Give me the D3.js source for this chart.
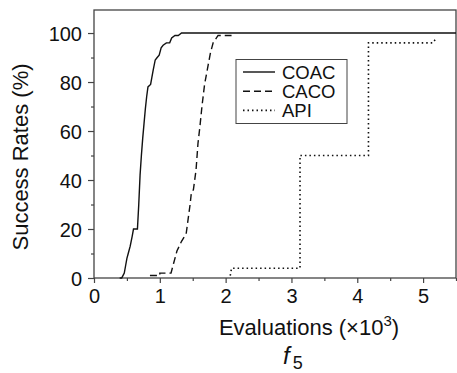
<!DOCTYPE html>
<html>
<head>
  <script src="https://cdn.jsdelivr.net/npm/d3@7"></script>
  <style>
    body { margin: 0; background: #fff; }
  </style>
</head>
<body>
  <main id="container"></main>
  <script>
    // series: [evaluations (x10^3), success rate %]
    const coacData = [
      [0.39, 0], [0.42, 0], [0.44, 1], [0.46, 2], [0.48, 5], [0.50, 8], [0.52, 10],
      [0.55, 13], [0.58, 17], [0.60, 20], [0.66, 20], [0.68, 30], [0.70, 42],
      [0.72, 50], [0.74, 57], [0.76, 63], [0.78, 69], [0.80, 74], [0.82, 78],
      [0.86, 79], [0.88, 82], [0.90, 85], [0.93, 89], [0.96, 90], [0.99, 91],
      [1.02, 94], [1.05, 95], [1.10, 96], [1.15, 96], [1.18, 98], [1.23, 99],
      [1.28, 99], [1.33, 100], [5.5, 100]
    ]
    const cacoData = [
      [0.85, 1], [1.00, 1], [1.00, 2], [1.17, 2], [1.21, 6], [1.26, 11], [1.33, 15],
      [1.40, 18], [1.43, 24], [1.46, 30], [1.48, 35], [1.51, 36], [1.55, 44],
      [1.58, 55], [1.61, 62], [1.64, 70], [1.68, 79], [1.735, 87], [1.77, 92],
      [1.81, 96], [1.885, 99], [2.09, 99]
    ]
    const apiData = [
      [2.07, 1], [2.09, 4], [3.13, 4], [3.13, 50], [4.17, 50], [4.17, 96],
      [5.15, 96], [5.20, 98]
    ]
    const seriesNames = ["COAC", "CACO", "API"]
    const xTicks = [0, 1, 2, 3, 4, 5]
    const yTicks = [0, 20, 40, 60, 80, 100]

    const width = 457
    const height = 373
    const plot = { left: 94, right: 456, top: 10, bottom: 278 }
    const fontFamily = "'Liberation Sans', Arial, sans-serif"

    const svg = d3.select("#container")
      .append("svg")
      .attr("width", width)
      .attr("height", height)
      .attr("font-family", fontFamily)

    const xScale = d3.scaleLinear().domain([0, 5.5]).range([plot.left, plot.right])
    const yScale = d3.scaleLinear().domain([0, 109.4]).range([plot.bottom, plot.top])

    const axisColor = "#444"

    // axes (ticks outward, minor ticks without labels)
    const xAxis = svg.append("g")
      .attr("transform", `translate(0,${plot.bottom})`)
      .call(d3.axisBottom(xScale).tickValues(xTicks).tickSize(5).tickPadding(4).tickFormat(d3.format("d")))
    xAxis.append("g").call(d3.axisBottom(xScale).tickValues(xTicks.map(d => d + 0.5)).tickSize(3).tickFormat(""))

    const yAxis = svg.append("g")
      .attr("transform", `translate(${plot.left},0)`)
      .call(d3.axisLeft(yScale).tickValues(yTicks).tickSize(6).tickPadding(6).tickFormat(d3.format("d")))
    yAxis.append("g").call(d3.axisLeft(yScale).tickValues(yTicks.slice(0, 5).map(d => d + 10)).tickSize(3).tickFormat(""))

    svg.selectAll("g").attr("font-family", fontFamily)
    svg.selectAll(".domain").remove()
    svg.selectAll(".tick line").attr("stroke", axisColor).attr("stroke-width", 1.2)
    svg.selectAll(".tick text")
      .attr("font-size", 20)
      .attr("fill", "#111")
    xAxis.selectAll(".tick text").attr("dy", "0.8em")
    yAxis.selectAll(".tick text").attr("dy", "0.36em")

    // frame
    svg.append("rect")
      .attr("x", plot.left)
      .attr("y", plot.top)
      .attr("width", plot.right - plot.left)
      .attr("height", plot.bottom - plot.top)
      .attr("fill", "none")
      .attr("stroke", axisColor)
      .attr("stroke-width", 1.3)

    const line = d3.line()
      .x(d => xScale(d[0]))
      .y(d => yScale(d[1]))

    const styles = [
      { data: coacData, dash: null, width: 1.4 },
      { data: cacoData, dash: "7,4", width: 1.4 },
      { data: apiData, dash: "1.5,3", width: 1.6 }
    ]

    svg.append("g").selectAll("path")
      .data(styles)
      .join("path")
      .attr("d", d => line(d.data))
      .attr("fill", "none")
      .attr("stroke", "#111")
      .attr("stroke-width", d => d.width)
      .attr("stroke-dasharray", d => d.dash)

    // legend
    const legend = svg.append("g")
    legend.append("rect")
      .attr("x", 236).attr("y", 59.5)
      .attr("width", 111).attr("height", 64)
      .attr("fill", "#fff")
      .attr("stroke", axisColor)
      .attr("stroke-width", 1)
    const rows = legend.selectAll("g.row")
      .data(styles)
      .join("g")
      .attr("transform", (d, i) => `translate(0,${72 + i * 19.2})`)
    rows.append("line")
      .attr("x1", 243).attr("x2", 275)
      .attr("stroke", "#111")
      .attr("stroke-width", d => d.width)
      .attr("stroke-dasharray", d => d.dash)
    rows.append("text")
      .attr("x", 282)
      .attr("dy", "0.36em")
      .attr("font-size", 18.5)
      .attr("fill", "#111")
      .text((d, i) => seriesNames[i])

    // axis titles
    svg.append("text")
      .attr("transform", `translate(28,157) rotate(-90)`)
      .attr("text-anchor", "middle")
      .attr("font-size", 22)
      .attr("fill", "#111")
      .text("Success Rates (%)")

    const xTitle = svg.append("text")
      .attr("x", 309)
      .attr("y", 335)
      .attr("text-anchor", "middle")
      .attr("font-size", 22)
      .attr("fill", "#111")
    xTitle.append("tspan").text("Evaluations (\u00d710")
    xTitle.append("tspan").attr("dy", -9).attr("font-size", 15).text("3")
    xTitle.append("tspan").attr("dy", 9).text(")")

    const fTitle = svg.append("text")
      .attr("x", 283)
      .attr("y", 364)
      .attr("font-size", 24)
      .attr("fill", "#111")
    fTitle.append("tspan").attr("font-style", "italic").text("f")
    fTitle.append("tspan").attr("dx", 3).attr("dy", 5).attr("font-size", 18).text("5")
  </script>
</body>
</html>
